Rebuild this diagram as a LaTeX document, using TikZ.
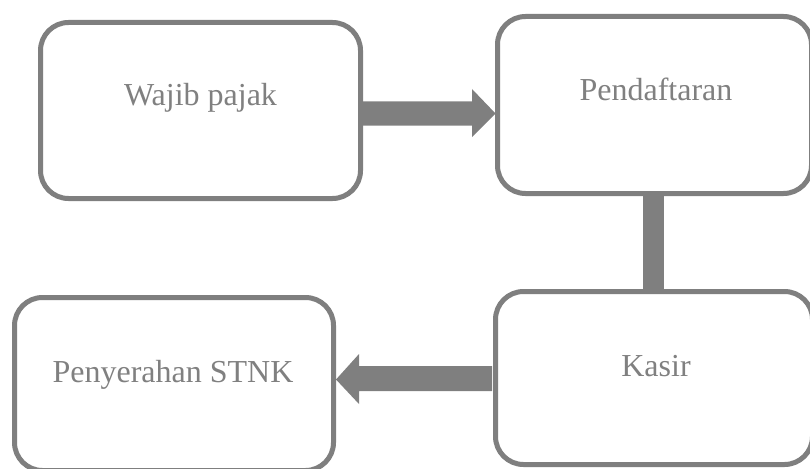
\documentclass[tikz,border=0pt]{standalone}
\usepackage{fontspec}
\setmainfont{Liberation Serif}
\usetikzlibrary{arrows.meta}
\definecolor{boxgray}{HTML}{7F7F7F}
\definecolor{textgray}{HTML}{808080}
\begin{document}
\begin{tikzpicture}[x=1pt,y=-1pt,
  procbox/.style={draw=boxgray, line width=5pt, rounded corners=28pt,
    rectangle, inner sep=0pt, fill=white},
  lbl/.style={anchor=base, inner sep=0pt, text=textgray,
    font=\fontsize{32}{38}\selectfont},
  bigarrow/.style={draw=none, fill=boxgray}
]
\useasboundingbox (0,0) rectangle (810,468);
\clip (0,0) rectangle (810,468);

% connectors (drawn first, boxes on top)
\coordinate (v1) at (653.5,193.5);
\coordinate (v2) at (653.5,291.5);
\draw[boxgray, line width=21pt] (v1) -- (v2);

% boxes
\node[procbox, minimum width=320pt, minimum height=176pt] (b1) at (200.5,110.5) {};
\node[procbox, minimum width=314pt, minimum height=177pt] (b2) at (654.5,105) {};
\node[procbox, minimum width=317pt, minimum height=173pt] (b3) at (654,378) {};
\node[procbox, minimum width=319pt, minimum height=173pt] (b4) at (174,384) {};

% labels
\node[lbl] (t1) at (200.5,106) {Wajib pajak};
\node[lbl] (t2) at (656,101) {Pendaftaran};
\node[lbl] (t3) at (656,376) {Kasir};
\node[lbl] (t4) at (173,382) {Penyerahan STNK};

% arrows
\coordinate (a1s) at (361,113.5);
\coordinate (a1e) at (495.5,113.5);
\fill[boxgray] (a1s |- 0,101.5) -- (472,101.5) -- (472,89) -- (a1e) -- (472,137) -- (472,125.5) -- (a1s |- 0,125.5) -- cycle;

\coordinate (a2s) at (492,378.5);
\coordinate (a2e) at (336,379.5);
\fill[boxgray] (a2s |- 0,366) -- (359,366) -- (359,354) -- (a2e) -- (359,404) -- (359,391) -- (a2s |- 0,391) -- cycle;
\end{tikzpicture}
\end{document}
